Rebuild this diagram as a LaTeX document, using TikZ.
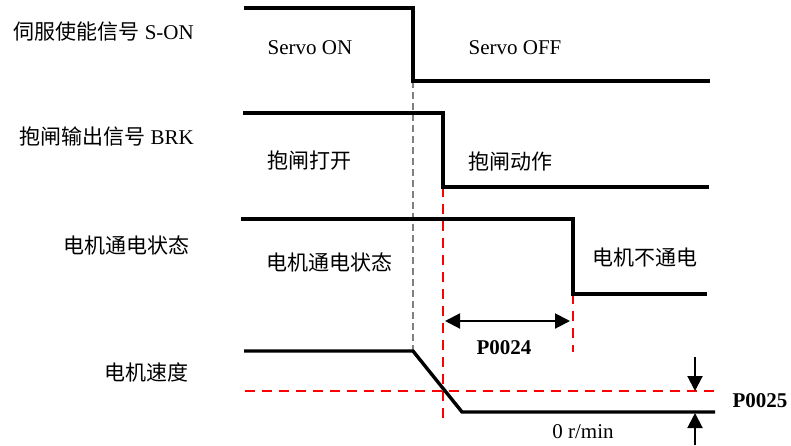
\documentclass[tikz,border=0pt]{standalone}
\usepackage{fontspec}
\setmainfont{Liberation Serif}
\newfontfamily\cjk{Noto Sans CJK SC}
\usetikzlibrary{arrows.meta}

\begin{document}
\begin{tikzpicture}[x=1pt,y=-1pt,>={Triangle[length=15pt,width=15pt]},every node/.style={font=\fontsize{21}{25}\selectfont,inner sep=0pt},sig/.style={line width=3.4pt,line join=miter},gdash/.style={gray,line width=1.6pt,dash pattern=on 7pt off 4pt},rdash/.style={red,line width=1.8pt,dash pattern=on 10pt off 7pt},dim/.style={->,line width=2pt}]
\useasboundingbox (0,0) rectangle (791,445);
% signal names
\node[anchor=east] (son) at (194,32) {{\cjk 伺服使能信号} S-ON};
\node[anchor=east] (brk) at (194,137) {{\cjk 抱闸输出信号} BRK};
\node (pwr) at (126,245) {\cjk 电机通电状态};
\node (spd) at (146,372) {\cjk 电机速度};
% corner points
\coordinate (a0) at (244,8);\coordinate (a1) at (413,8);\coordinate (a2) at (413,81);\coordinate (a3) at (710,81);
\coordinate (b0) at (243,113);\coordinate (b1) at (443,113);\coordinate (b2) at (443,187);\coordinate (b3) at (709,187);
\coordinate (c0) at (241,219);\coordinate (c1) at (573,219);\coordinate (c2) at (573,294);\coordinate (c3) at (707,294);
\coordinate (d0) at (244,351);\coordinate (d1) at (413,351);\coordinate (d2) at (462,412);\coordinate (d3) at (715,412);
\coordinate (r1) at (443,420);\coordinate (r2) at (573,352);
\coordinate (h0) at (245,391);\coordinate (h1) at (715,391);
% guide lines
\draw[gdash] (a2)--(d1);
\draw[rdash] (b2)--(r1);
\draw[rdash] (c2)--(r2);
\draw[rdash] (h0)--(h1);
% waveforms
\draw[sig] (a0)--(a1)--(a2)--(a3);
\draw[sig] (b0)--(b1)--(b2)--(b3);
\draw[sig] (c0)--(c1)--(c2)--(c3);
\draw[sig] (d0)--(d1)--(d2)--(d3);
% states
\node (on) at (310,48) {Servo ON};
\node (off) at (515,48) {Servo OFF};
\node (open) at (309,161) {\cjk 抱闸打开};
\node (act) at (510,161) {\cjk 抱闸动作};
\node (pon) at (329,262) {\cjk 电机通电状态};
\node (poff) at (645,258) {\cjk 电机不通电};
% P0024
\coordinate (t0) at (445,321);\coordinate (t1) at (570,321);
\draw[dim,<->] (t0)--(t1);
\node[font=\fontsize{21}{25}\selectfont\bfseries] (p24) at (504,348) {P0024};
% P0025
\coordinate (u0) at (695,357);\coordinate (u1) at (695,391);\coordinate (v0) at (695,445);\coordinate (v1) at (695,413);
\draw[dim] (u0)--(u1);
\draw[dim] (v0)--(v1);
\node[font=\fontsize{21}{25}\selectfont\bfseries] (p25) at (760,401) {P0025};
\node (zero) at (583,432) {0 r/min};
\end{tikzpicture}
\end{document}
